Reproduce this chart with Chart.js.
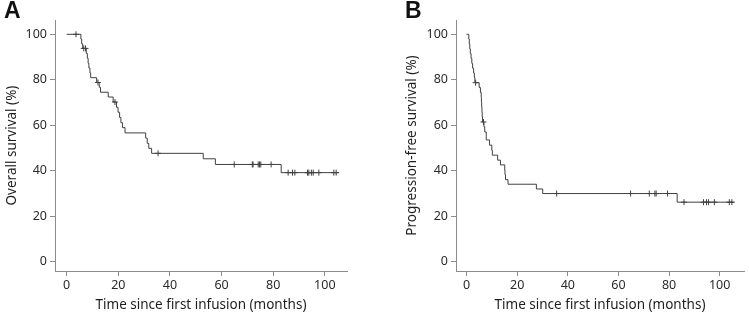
<!DOCTYPE html>
<html>
<head>
<meta charset="utf-8">
<script src="https://cdn.jsdelivr.net/npm/chart.js@4.4.1/dist/chart.umd.min.js"></script>
<style>
  html, body { margin: 0; padding: 0; background: #fff; }
  #wrap { position: relative; width: 749px; height: 317px; overflow: hidden; }
  canvas { position: absolute; top: 0; }
  .panel-label {
    position: absolute; top: -3px;
    font: bold 23px "Liberation Sans", Arial, sans-serif; color: #111;
  }
</style>
</head>
<body>
<div id="wrap">
  <canvas id="osChart" width="375" height="317" style="left:0"></canvas>
  <canvas id="pfsChart" width="349" height="317" style="left:400px"></canvas>
  <div class="panel-label" style="left:4px">A</div>
  <div class="panel-label" style="left:405px">B</div>
</div>
<script>
// Overall survival: event times (months) and survival after each event (%)
const osTimes = [0, 5.5, 5.8, 6.2, 7.6, 8.0, 8.3, 8.6, 9.0, 9.3, 11.6, 12.6, 13.1,
  16.1, 18.0, 19.3, 19.9, 20.5, 21.0, 21.6, 22.6, 30.6, 31.2, 31.8, 32.9,
  52.9, 57.6, 83.1, 105.4];
const osSurv = [100, 97.9, 95.8, 93.8, 91.6, 89.5, 87.3, 85.2, 83.0, 80.9, 78.8, 76.7, 74.5,
  72.4, 70.2, 67.9, 65.7, 63.4, 61.1, 58.9, 56.6, 54.3, 52.0, 49.8, 47.6,
  45.2, 42.7, 39.1, 39.1];
const osCensored = [3.6, 6.6, 7.3, 12.1, 18.7, 35.4, 64.9, 71.9, 72.2, 74.2, 74.7, 75.2,
  79.2, 85.8, 87.5, 88.4, 93.3, 93.8, 94.8, 95.5, 97.7, 103.5, 104.4];

// Progression-free survival
const pfsTimes = [0, 0.9, 1.1, 1.3, 1.5, 1.8, 2.1, 2.4, 2.8, 3.1, 3.3, 5.0, 5.5,
  5.8, 5.9, 6.0, 6.1, 6.2, 6.3, 6.9, 7.2, 7.8, 9.1, 10.0, 10.2, 12.3, 13.4,
  15.1, 15.2, 15.4, 16.4, 27.6, 30.1, 83.2, 105.6];
const pfsSurv = [100, 97.9, 95.7, 93.6, 91.5, 89.4, 87.2, 85.1, 83.0, 80.9, 78.7, 76.6, 74.4,
  72.2, 70.1, 67.9, 65.7, 63.6, 61.4, 59.2, 57.0, 53.5, 51.2, 49.0, 46.8, 44.6, 42.5,
  40.3, 38.2, 36.0, 34.0, 31.9, 29.9, 26.1, 26.1];
const pfsCensored = [3.6, 6.7, 35.6, 64.8, 72.2, 74.4, 74.9, 79.4, 85.9, 93.6, 94.8, 95.6,
  97.9, 103.8, 104.8];

const xTicks = [0, 20, 40, 60, 80, 100];
const yTicks = [0, 20, 40, 60, 80, 100];

const FONT = '"Noto Sans", "Open Sans", sans-serif';
const AXIS_COLOR = '#8c8c8c';
const LINE_COLOR = '#404040';

function survivalAt(times, surv, t) {
  let v = surv[0];
  for (let i = 0; i < times.length; i++) {
    if (times[i] <= t) v = surv[i];
  }
  return v;
}

function kmChart(canvasId, times, surv, censored, yTitle, opts) {
  const ctx = document.getElementById(canvasId).getContext('2d');
  return new Chart(ctx, {
    type: 'line',
    data: {
      datasets: [{
        data: times.map((t, i) => ({ x: t, y: surv[i] })),
        stepped: 'before',
        borderColor: LINE_COLOR,
        borderWidth: 1,
        pointRadius: 0,
        fill: false
      }, {
        data: censored.map(t => ({ x: t, y: survivalAt(times, surv, t) })),
        showLine: false,
        pointStyle: 'cross',
        pointRadius: 3,
        borderColor: LINE_COLOR,
        borderWidth: 1
      }]
    },
    options: {
      responsive: false,
      animation: false,
      layout: { padding: { left: 0, right: opts.padRight, top: 20, bottom: 0 } },
      plugins: { legend: { display: false }, tooltip: { enabled: false } },
      scales: {
        x: {
          type: 'linear',
          min: opts.xMin,
          max: opts.xMax,
          afterFit: (s) => { s.height = 46; },
          afterBuildTicks: (s) => { s.ticks = xTicks.map(v => ({ value: v })); },
          ticks: { color: '#2a2a2a', font: { family: FONT, size: 12.5 }, padding: 2, maxRotation: 0 },
          grid: { drawOnChartArea: false, drawTicks: true, tickLength: 5, color: AXIS_COLOR },
          border: { display: true, color: AXIS_COLOR, width: 1 },
          title: {
            display: true,
            text: 'Time since first infusion (months)',
            color: '#1e1e1e',
            font: { family: FONT, size: 13.5 }
          }
        },
        y: {
          min: -4.2,
          max: 106.3,
          afterFit: (s) => { s.width = opts.yWidth; },
          afterBuildTicks: (s) => { s.ticks = yTicks.map(v => ({ value: v })); },
          ticks: { color: '#2a2a2a', font: { family: FONT, size: 12.5 }, padding: 3 },
          grid: { drawOnChartArea: false, drawTicks: true, tickLength: 5, color: AXIS_COLOR },
          border: { display: true, color: AXIS_COLOR, width: 1 },
          title: {
            display: true,
            text: yTitle,
            color: '#1e1e1e',
            font: { family: FONT, size: 13.5 }
          }
        }
      }
    }
  });
}

kmChart('osChart', osTimes, osSurv, osCensored, 'Overall survival (%)',
  { xMin: -4.53, xMax: 108.6, yWidth: 55, padRight: 28 });
kmChart('pfsChart', pfsTimes, pfsSurv, pfsCensored, 'Progression-free survival (%)',
  { xMin: -4.15, xMax: 109.6, yWidth: 56, padRight: 0 });
</script>
</body>
</html>
